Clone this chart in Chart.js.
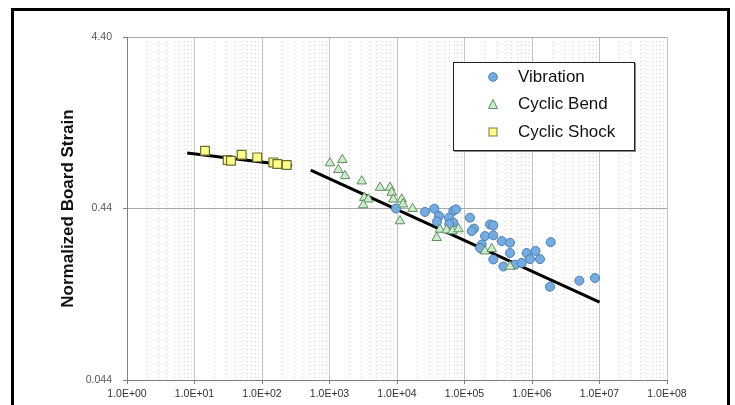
<!DOCTYPE html>
<html>
<head>
<meta charset="utf-8">
<script src="https://cdn.jsdelivr.net/npm/chart.js@4/dist/chart.umd.min.js"></script>
<style>
  html, body { margin: 0; padding: 0; background: #fff; }
  #wrap { position: relative; width: 735px; height: 405px; overflow: hidden; font-family: 'Liberation Sans', Arial, sans-serif; }
  #frame { position: absolute; left: 11px; top: 8px; width: 713px; height: 430px; border: 3px solid #000; }
  #c { position: absolute; left: 0; top: 0; }
  #legend { position: absolute; left: 453px; top: 62px; width: 180px; height: 87px; border: 1.5px solid #222; background: #fff; box-shadow: 1px 1px 0 #888; }
  .item { position: absolute; left: 0; height: 20px; display: flex; align-items: center; font-size: 17px; color: #111; }
  .item svg { position: absolute; left: 33px; }
  .item span { position: absolute; left: 64px; white-space: nowrap; line-height: 20px; }
</style>
</head>
<body>
<div id="wrap">
  <div id="frame"></div>
  <canvas id="c" width="735" height="405"></canvas>
  <div id="legend">
    <div class="item" style="top:4px"><svg width="12" height="12" viewBox="0 0 12 12"><circle cx="6" cy="6" r="4.3" fill="#74acdf" stroke="#4a7db8" stroke-width="1"/></svg><span>Vibration</span></div>
    <div class="item" style="top:31px"><svg width="12" height="12" viewBox="0 0 12 12"><polygon points="6,1.5 10.5,10.5 1.5,10.5" fill="#cdebcd" stroke="#5e8f5e" stroke-width="1"/></svg><span>Cyclic Bend</span></div>
    <div class="item" style="top:59px"><svg width="12" height="12" viewBox="0 0 12 12"><rect x="2" y="2" width="8" height="8" fill="#ffff8a" stroke="#7a7a3a" stroke-width="1"/></svg><span>Cyclic Shock</span></div>
  </div>
</div>
<script>
// ---- data ----
const shockX = [14.3, 31, 34.7, 50, 85, 147, 169, 232];
const shockY = [0.956, 0.844, 0.835, 0.906, 0.874, 0.817, 0.800, 0.790];

const bendX = [1016, 1549, 1350, 1698, 3000, 3279, 3758, 3168, 5598, 7870, 8340, 8810, 11740, 12270, 16980, 11070, 38730, 43350, 54480, 66370, 81500, 201300, 253000, 472000];
const bendY = [0.810, 0.847, 0.740, 0.682, 0.635, 0.509, 0.498, 0.461, 0.583, 0.583, 0.545, 0.498, 0.498, 0.466, 0.439, 0.372, 0.297, 0.332, 0.329, 0.325, 0.334, 0.248, 0.256, 0.202];

const vibX = [9660, 26000, 35700, 41900, 39150, 68250, 74800, 58900, 68250, 59550, 120600, 138300, 127800, 238700, 267000, 201300, 267000, 179800, 169800, 355800, 472000, 267000, 472000, 375800, 560000, 703500, 834000, 1127000, 934000, 1314000, 1892000, 1849000, 5020000, 8575000];
const vibY = [0.440, 0.420, 0.439, 0.398, 0.369, 0.426, 0.435, 0.389, 0.364, 0.357, 0.389, 0.336, 0.325, 0.355, 0.351, 0.304, 0.307, 0.271, 0.259, 0.284, 0.278, 0.222, 0.242, 0.202, 0.207, 0.212, 0.242, 0.249, 0.223, 0.223, 0.280, 0.154, 0.167, 0.173];

const fit1X = [7.8, 278];
const fit1Y = [0.928, 0.781];
const fit2X = [526, 1.0e7];
const fit2Y = [0.737, 0.125];

const xTickValues = [1, 10, 100, 1000, 1e4, 1e5, 1e6, 1e7, 1e8];
const xTickLabels = ['1.0E+00', '1.0E+01', '1.0E+02', '1.0E+03', '1.0E+04', '1.0E+05', '1.0E+06', '1.0E+07', '1.0E+08'];
const yTickValues = [0.044, 0.44, 4.4];
const yTickLabels = ['0.044', '0.44', '4.40'];
const yTitle = 'Normalized Board Strain';

// ---- build ----
const pts = (xs, ys) => xs.map((x, i) => ({x: x, y: ys[i]}));
const FONT = "'Liberation Sans', Arial, sans-serif";

// x ticks: decades (major) plus 2..9 multiples (minor gridlines)
const xTicks = [];
xTickValues.forEach((v, i) => {
  xTicks.push({value: v, major: true});
  if (i < xTickValues.length - 1) {
    for (let m = 2; m <= 9; m++) xTicks.push({value: v * m, major: false});
  }
});

const isMajor = (ctx) => ctx.tick && ctx.tick.major;

new Chart(document.getElementById('c'), {
  type: 'scatter',
  data: {
    datasets: [
      { label: 'Vibration', data: pts(vibX, vibY), pointStyle: 'circle', pointRadius: 4.5,
        backgroundColor: '#74acdf', borderColor: '#4a7db8', borderWidth: 1, order: 2 },
      { label: 'Cyclic Bend', data: pts(bendX, bendY), pointStyle: 'triangle', pointRadius: 5.5,
        backgroundColor: '#cdebcd', borderColor: '#5e8f5e', borderWidth: 1, order: 1 },
      { label: 'Cyclic Shock', data: pts(shockX, shockY), pointStyle: 'rect', pointRadius: 6.2,
        backgroundColor: '#ffff8a', borderColor: '#6e6e30', borderWidth: 1.2, order: 3 },
      { label: 'fit1', data: pts(fit1X, fit1Y), showLine: true, pointRadius: 0, borderColor: '#000',
        borderWidth: 3, order: 10 },
      { label: 'fit2', data: pts(fit2X, fit2Y), showLine: true, pointRadius: 0, borderColor: '#000',
        borderWidth: 3, order: 10 }
    ]
  },
  options: {
    responsive: false,
    animation: false,
    layout: { padding: { left: 0, top: 37, right: 68, bottom: 0 } },
    plugins: { legend: { display: false }, tooltip: { enabled: false } },
    scales: {
      x: {
        type: 'logarithmic', min: 1, max: 1e8,
        afterBuildTicks: (s) => { s.ticks = xTicks.map(t => ({value: t.value, major: t.major})); },
        afterFit: (s) => { s.height = 25; },
        ticks: {
          autoSkip: false, maxRotation: 0, minRotation: 0, padding: 4,
          color: '#333', font: { family: FONT, size: 10.5 },
          callback: (v) => { const i = xTickValues.indexOf(v); return i >= 0 ? xTickLabels[i] : ''; }
        },
        grid: {
          color: (ctx) => isMajor(ctx) ? '#c4c4c4' : '#d6d6d6',
          lineWidth: 1,
          tickLength: 4,
          tickColor: (ctx) => isMajor(ctx) ? '#808080' : 'rgba(0,0,0,0)'
        },
        border: {
          color: '#808080', width: 1,
          dash: (ctx) => (ctx.tick && !ctx.tick.major) ? [1, 3] : []
        }
      },
      y: {
        type: 'logarithmic', min: 0.044, max: 4.4,
        afterBuildTicks: (s) => { s.ticks = yTickValues.map(v => ({value: v, major: true})); },
        afterFit: (s) => { s.width = 127; },
        ticks: {
          autoSkip: false, padding: 11,
          color: '#555', font: { family: FONT, size: 10.5 },
          callback: (v) => { const i = yTickValues.indexOf(v); return i >= 0 ? yTickLabels[i] : ''; }
        },
        grid: { color: '#a8a8a8', lineWidth: 1, tickLength: 4, tickColor: '#808080' },
        border: { color: '#808080', width: 1 },
        title: {
          display: true, text: yTitle, color: '#111',
          font: { family: FONT, size: 17, weight: 'bold' },
          padding: { top: 58, bottom: 0 }
        }
      }
    }
  }
});
</script>
</body>
</html>
